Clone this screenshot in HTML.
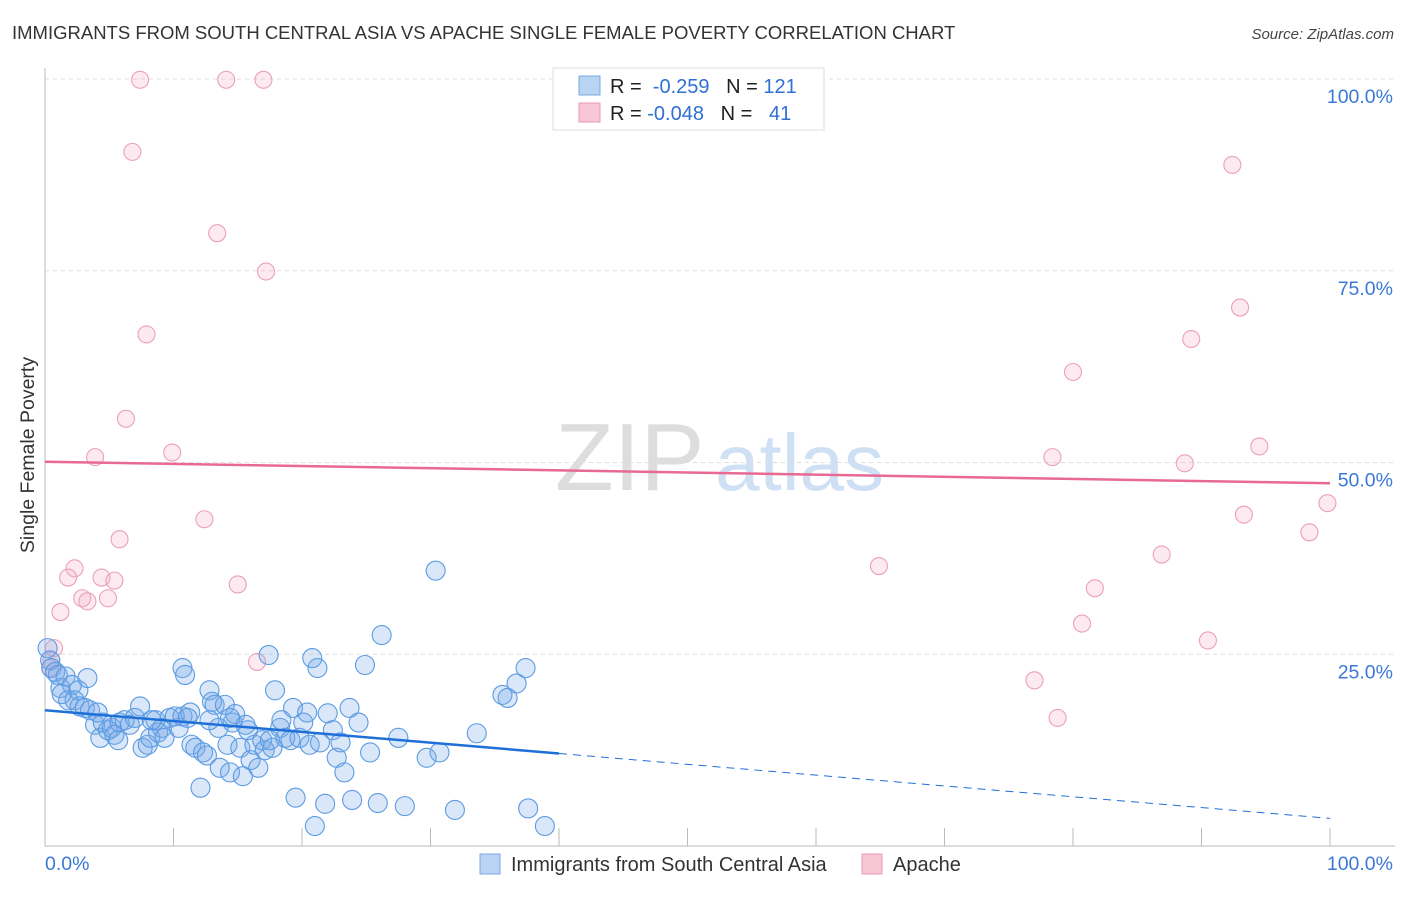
<!DOCTYPE html>
<html><head><meta charset="utf-8"><style>
body{margin:0;background:#fff;font-family:"Liberation Sans",sans-serif;}
svg text{font-family:"Liberation Sans",sans-serif;}
</style></head><body>
<svg id="chart" width="1406" height="892" xmlns="http://www.w3.org/2000/svg">
<text x="12" y="39" font-size="18.5" fill="#333">IMMIGRANTS FROM SOUTH CENTRAL ASIA VS APACHE SINGLE FEMALE POVERTY CORRELATION CHART</text>
<text x="1394" y="39" font-size="15" fill="#444" text-anchor="end" font-style="italic">Source: ZipAtlas.com</text>
<text transform="translate(34,455) rotate(-90)" font-size="19.5" fill="#333" text-anchor="middle">Single Female Poverty</text>
<g>
<text x="555" y="490" font-size="96" fill="#ddd" font-family="Liberation Serif">ZIP</text>
<text x="715" y="490" font-size="80" fill="#cfe0f4">atlas</text>
</g>
<g id="grid"></g>
<g id="axes"></g>
<g id="pts"></g>
<g id="trend"></g>
<g>
<rect x="553" y="68" width="271" height="62" fill="#fff" stroke="#ddd"/>
<rect x="579" y="76" width="21" height="19" fill="#b9d3f3" stroke="#7aaae6"/>
<rect x="579" y="103" width="21" height="19" fill="#f8c7d5" stroke="#eb9ab3"/>
<text x="610" y="93" font-size="20" fill="#222">R = <tspan fill="#2f6fd6">&#160;-0.259</tspan>&#160;&#160;&#160;N = <tspan fill="#2f6fd6">121</tspan></text>
<text x="610" y="120" font-size="20" fill="#222">R = <tspan fill="#2f6fd6">-0.048</tspan>&#160;&#160;&#160;N = <tspan fill="#2f6fd6">&#160;&#160;41</tspan></text>
</g>
<g>
<rect x="480" y="854" width="20" height="20" fill="#b9d3f3" stroke="#7aaae6"/>
<text x="511" y="871" font-size="20" fill="#333">Immigrants from South Central Asia</text>
<rect x="862" y="854" width="20" height="20" fill="#f8c7d5" stroke="#eb9ab3"/>
<text x="893" y="871" font-size="20" fill="#333">Apache</text>
</g>
</svg>
<script>
const blueX=[0.2,0.4,0.5,0.8,1.0,1.2,1.6,1.8,2.1,2.3,2.6,2.7,3.1,3.3,3.5,3.9,4.3,4.5,4.9,5.2,5.4,5.8,6.2,6.6,7.0,7.4,7.6,8.0,8.2,8.6,8.8,9.1,9.3,9.7,10.1,10.4,10.7,10.7,10.9,11.3,11.4,11.7,12.1,12.3,12.6,12.8,13.0,13.2,13.5,13.6,14.0,14.2,14.4,14.6,14.8,15.2,15.4,15.8,16.0,16.3,16.6,16.9,17.1,17.4,17.7,17.9,18.3,18.7,19.1,19.3,19.5,19.8,20.1,20.4,20.6,20.8,21.0,21.2,21.4,21.8,22.0,22.4,22.7,23.0,23.3,23.7,23.9,24.4,24.9,25.3,25.9,26.2,27.5,28.0,29.7,30.4,30.7,31.9,33.6,35.6,36.0,36.7,37.4,37.6,38.9,1.3,4.1,5.7,8.3,11.1,15.6,17.5,18.4,14.4,12.8];
const blueY=[25.8,24.2,23.2,22.7,22.3,20.6,22.1,19.0,21.0,19.0,20.3,18.2,18.0,21.9,17.7,15.8,14.1,16.1,15.1,15.4,14.5,16.1,16.4,15.8,16.7,18.2,12.8,13.2,14.1,16.4,14.8,15.4,14.1,16.7,16.9,15.4,16.9,23.2,22.3,17.4,13.2,12.8,7.6,12.2,11.8,20.3,18.8,18.4,15.4,10.2,18.4,13.2,9.6,16.1,17.2,12.8,9.1,15.1,11.2,13.2,10.2,13.8,12.5,24.9,12.8,20.3,15.4,14.1,13.8,18.0,6.3,14.1,16.1,17.4,13.2,24.5,2.6,23.2,13.5,5.5,17.3,15.1,11.5,13.5,9.6,18.0,6.0,16.1,23.6,12.2,5.6,27.5,14.1,5.2,11.5,35.9,12.2,4.7,14.7,19.7,19.3,21.2,23.2,4.9,2.6,19.8,17.4,13.8,16.4,16.7,15.8,13.8,16.4,16.7,16.4];
const pinkX=[7.4,14.1,17.0,6.8,13.4,17.2,7.9,6.3,3.9,9.9,12.4,5.8,2.3,1.8,4.4,5.4,15.0,2.9,3.3,4.9,1.2,0.7,0.5,0.4,16.5,64.9,77.0,78.8,78.4,80.0,80.7,81.7,86.9,88.7,89.2,90.5,92.4,93.0,93.3,94.5,98.4,99.8];
const pinkY=[99.9,99.9,99.9,90.5,79.9,74.9,66.7,55.7,50.7,51.3,42.6,40.0,36.2,35.0,35.0,34.6,34.1,32.3,31.9,32.3,30.5,25.8,24.2,23.2,24.0,36.5,21.6,16.7,50.7,61.8,29.0,33.6,38.0,49.9,66.1,26.8,88.8,70.2,43.2,52.1,40.9,44.7];
const blueTrend=[17.7,-0.141];
const pinkTrend=[50.1,-0.028];
const blueSolidEnd=40;
const yTicks=[25,50,75,100];
const yTickLabels=["25.0%","50.0%","75.0%","100.0%"];
const xTicks=[0,10,20,30,40,50,60,70,80,90,100];

const X0=45,X1=1330,Y0=846,Y100=79;
const sx=v=>X0+(X1-X0)*v/100;
const sy=v=>Y0-(Y0-Y100)*v/100;
const NS='http://www.w3.org/2000/svg';
function mk(parent,tag,attrs){const e=document.createElementNS(NS,tag);for(const k in attrs)e.setAttribute(k,attrs[k]);document.getElementById(parent).appendChild(e);return e;}

yTicks.forEach((t,i)=>{
  const g=mk('grid','line',{x1:X0,x2:1395,y1:sy(t),y2:sy(t),stroke:'#ddd','stroke-dasharray':'4,4'});
  
  
  const l=mk('axes','text',{x:1393,y:sy(t)+24,'font-size':19.5,fill:'#3b78d8','text-anchor':'end'});
  l.textContent=yTickLabels[i];
  
  
});
const ya=mk('axes','line',{x1:X0,x2:X0,y1:68,y2:Y0,stroke:'#bbb'});


const xa=mk('axes','line',{x1:X0,x2:1395,y1:Y0,y2:Y0,stroke:'#bbb'});


xTicks.forEach(t=>{
  const tk=mk('axes','line',{x1:sx(t),x2:sx(t),y1:Y0,y2:Y0-18,stroke:'#bbb'});
  
  
});
const xl0=mk('axes','text',{x:45,y:870,'font-size':19.5,fill:'#3b78d8'});xl0.textContent='0.0%';


const xl1=mk('axes','text',{x:1393,y:870,'font-size':19.5,fill:'#3b78d8','text-anchor':'end'});xl1.textContent='100.0%';



pinkX.forEach((x,i)=>{
  const c=mk('pts','circle',{cx:sx(x),cy:sy(pinkY[i]),r:8.5,fill:'rgba(244,170,195,0.25)',stroke:'#eba0b8','stroke-width':1.1});
  
  
});
blueX.forEach((x,i)=>{
  const c=mk('pts','circle',{cx:sx(x),cy:sy(blueY[i]),r:9.5,fill:'rgba(120,170,235,0.28)',stroke:'#5b9be2','stroke-width':1.1});
  
  
});
const bf=x=>blueTrend[0]+blueTrend[1]*x;
const pf=x=>pinkTrend[0]+pinkTrend[1]*x;
const b1=mk('trend','line',{x1:sx(0),y1:sy(bf(0)),x2:sx(blueSolidEnd),y2:sy(bf(blueSolidEnd)),stroke:'#1f6fd8','stroke-width':2.5});


const b2=mk('trend','line',{x1:sx(blueSolidEnd),y1:sy(bf(blueSolidEnd)),x2:sx(100),y2:sy(bf(100)),stroke:'#1f6fd8','stroke-width':1,'stroke-dasharray':'8,6'});


const p1=mk('trend','line',{x1:sx(0),y1:sy(pf(0)),x2:sx(100),y2:sy(pf(100)),stroke:'#e86a93','stroke-width':2.5});


</script>
</body></html>
